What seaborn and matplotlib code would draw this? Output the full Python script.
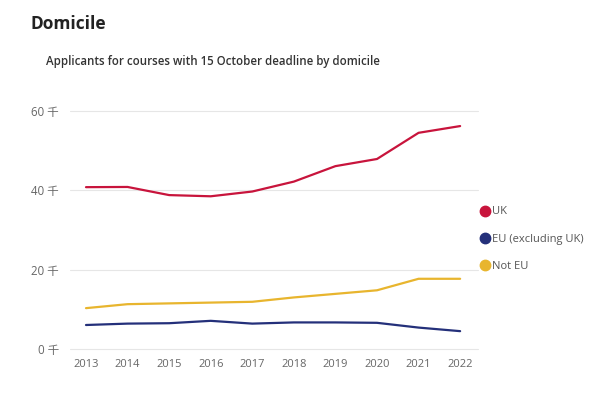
import matplotlib
matplotlib.use("Agg")
import matplotlib.pyplot as plt
from matplotlib.lines import Line2D
import seaborn as sns
import pandas as pd

years = [2013, 2014, 2015, 2016, 2017, 2018, 2019, 2020, 2021, 2022]
uk = [40.8, 40.85, 38.8, 38.5, 39.7, 42.2, 46.1, 47.9, 54.5, 56.2]
eu = [6.05, 6.4, 6.5, 7.1, 6.4, 6.7, 6.7, 6.6, 5.4, 4.5]
not_eu = [10.3, 11.3, 11.5, 11.7, 11.9, 13.0, 13.9, 14.8, 17.7, 17.7]
series_names = ["UK", "EU (excluding UK)", "Not EU"]
colors = ["#c8143c", "#24307a", "#e8b52e"]
y_ticks = [0, 20, 40, 60]
y_tick_labels = ["0 千", "20 千", "40 千", "60 千"]

sns.set_theme(style="white")
plt.rcParams["font.family"] = ["Open Sans", "Noto Sans CJK SC", "DejaVu Sans"]

df = pd.DataFrame({
    "year": years * 3,
    "value": uk + eu + not_eu,
    "series": [series_names[0]] * len(years) + [series_names[1]] * len(years) + [series_names[2]] * len(years),
})

fig = plt.figure(figsize=(5.94, 4.04), dpi=100)
ax = fig.add_axes([70 / 594, 1 - 349 / 404, (478 - 70) / 594, (349 - 111) / 404])

sns.lineplot(data=df, x="year", y="value", hue="series", hue_order=series_names,
             palette=colors, linewidth=1.6, ax=ax, legend=False)

ax.set_xlim(2012.615, 2022.43)
ax.set_ylim(0, 60)
ax.set_yticks(y_ticks)
ax.set_yticklabels(y_tick_labels)
ax.set_xticks(years)
ax.set_xticklabels([str(y) for y in years])
for y in y_ticks:
    ax.axhline(y, color="#e6e6e6", linewidth=0.8, zorder=0)
for s in ax.spines.values():
    s.set_visible(False)
ax.tick_params(axis="both", length=0, labelsize=8, labelcolor="#666666")
ax.tick_params(axis="x", pad=7)
ax.tick_params(axis="y", pad=8, labelsize=8.3)
ax.set_xlabel("")
ax.set_ylabel("")
for line in ax.lines:
    line.set_clip_on(False)

fig.text(30 / 594, 1 - 24 / 404, "Domicile", fontsize=12.5, fontweight="bold",
         color="#222222", va="center", ha="left")
fig.text(46 / 594, 1 - 62 / 404, "Applicants for courses with 15 October deadline by domicile",
         fontsize=8.3, fontweight="semibold", color="#333333", va="center", ha="left")

handles = [Line2D([0], [0], marker="o", linestyle="", markersize=7.5,
                  markerfacecolor=c, markeredgecolor=c) for c in colors]
leg = fig.legend(handles, series_names, loc="upper left",
                 bbox_to_anchor=(474 / 594, 1 - 202 / 404), frameon=False,
                 fontsize=8, handletextpad=0.0, labelspacing=1.45,
                 handlelength=1.2, borderaxespad=0)
for t in leg.get_texts():
    t.set_color("#555555")

fig.savefig("out.png", dpi=100, facecolor="white")
